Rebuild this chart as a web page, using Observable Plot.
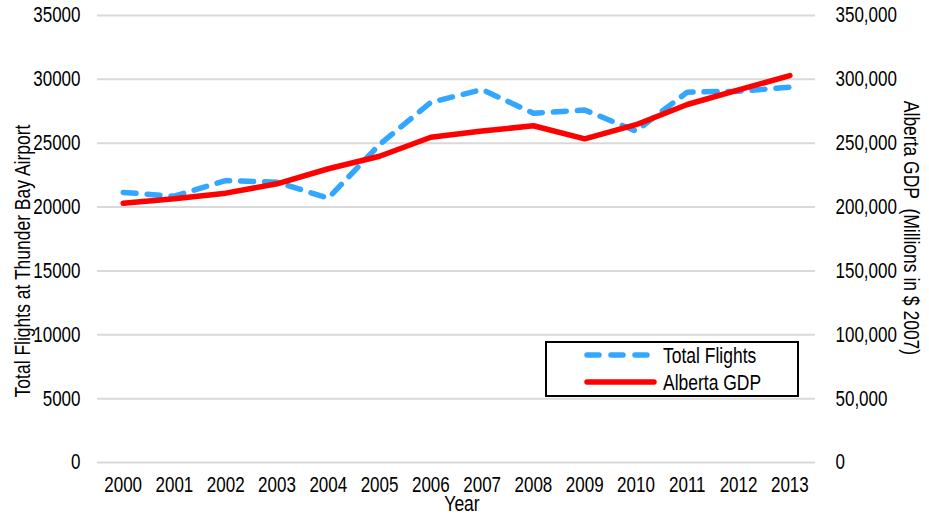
<!DOCTYPE html>
<html>
<head>
<meta charset="utf-8">
<script src="https://cdn.jsdelivr.net/npm/d3@7"></script>
<script src="https://cdn.jsdelivr.net/npm/@observablehq/plot@0.6"></script>
<style>
  html, body { margin: 0; padding: 0; background: #fff; }
  #chart { width: 929px; height: 515px; overflow: hidden; }
</style>
</head>
<body>
<div id="chart"></div>
<script>
const years = [2000, 2001, 2002, 2003, 2004, 2005, 2006, 2007, 2008, 2009, 2010, 2011, 2012, 2013];
const flights = [21150, 20850, 22080, 21950, 20700, 24900, 28200, 29200, 27350, 27600, 25950, 29000, 29070, 29380];
const gdp = [203000, 206500, 210900, 218200, 230000, 239800, 254700, 259500, 263700, 253400, 264500, 280300, 291800, 303000];
const leftTicks = [0, 5000, 10000, 15000, 20000, 25000, 30000, 35000];
const seriesNames = ["Total Flights", "Alberta GDP"];
const xTitle = "Year";
const yLeftTitle = "Total Flights at Thunder Bay Airport";
const yRightTitle = "Alberta GDP  (Millions in $ 2007)";

const FONT = "'Liberation Sans', Arial, sans-serif";
const BLUE = "#33a6ff";
const RED = "#ff0000";
const STRETCH = 1.3;

const data = years.map((y, i) => ({year: y, flights: flights[i], gdp: gdp[i]}));

const W = 929, H = 515, mL = 97, mR = 114, mT = 15, mB = 53;

const chart = Plot.plot({
  width: W, height: H,
  marginLeft: mL, marginRight: mR, marginTop: mT, marginBottom: mB,
  style: {fontFamily: FONT, fontSize: "17px", color: "#000", background: "#fff", overflow: "visible"},
  x: {type: "linear", domain: [years[0] - 0.5, years[years.length - 1] + 0.5]},
  y: {domain: [0, 35000]},
  marks: [
    Plot.gridY({ticks: leftTicks, stroke: "#d9d9d9", strokeOpacity: 1, strokeWidth: 2}),
    Plot.axisY({ticks: leftTicks, tickSize: 0, tickPadding: 17, tickFormat: d => String(d), label: null}),
    Plot.axisY({anchor: "right", ticks: leftTicks, tickSize: 0, tickPadding: 20, textAnchor: "start",
      tickFormat: d => d3.format(",")(d * 10), label: null}),
    Plot.axisX({ticks: years, tickSize: 0, tickPadding: 23, tickFormat: d => String(d), label: null}),
    Plot.line(data, {x: "year", y: "flights", stroke: BLUE, strokeWidth: 5.5,
      strokeDasharray: "13,11", strokeLinecap: "round", strokeLinejoin: "round"}),
    Plot.line(data, {x: "year", y: d => d.gdp / 10, stroke: RED, strokeWidth: 5.5,
      strokeLinecap: "round", strokeLinejoin: "round"})
  ]
});

document.getElementById("chart").appendChild(chart);

const svg = d3.select(chart);
const g = svg.append("g").attr("font-family", FONT).attr("fill", "#000").attr("font-size", 17.5);

function label(x, y, rot, anchor, txt) {
  return g.append("text")
    .attr("transform", `translate(${x},${y})` + (rot ? ` rotate(${rot})` : ""))
    .attr("dy", "0.35em").attr("text-anchor", anchor).attr("data-rot", rot ? 1 : 0).text(txt);
}

// axis titles
label(462, 503, 0, "middle", xTitle);
label(22, 261, -90, "middle", yLeftTitle);
label(912, 228, 90, "middle", yRightTitle);

// legend
const lg = g.append("g");
lg.append("rect").attr("x", 546).attr("y", 342).attr("width", 252).attr("height", 54)
  .attr("fill", "#fff").attr("stroke", "#000").attr("stroke-width", 2);
lg.append("line").attr("x1", 587).attr("x2", 648).attr("y1", 355).attr("y2", 355)
  .attr("stroke", BLUE).attr("stroke-width", 5.5).attr("stroke-dasharray", "12,12").attr("stroke-linecap", "round");
lg.append("line").attr("x1", 587).attr("x2", 654).attr("y1", 382).attr("y2", 382)
  .attr("stroke", RED).attr("stroke-width", 5.5).attr("stroke-linecap", "round");
label(663, 355, 0, "start", seriesNames[0]);
label(663, 382, 0, "start", seriesNames[1]);

// stretch glyphs along their height (the reference uses a tall, narrow face):
// wrap every text in a group that scales about the text's own centre
const sr = chart.getBoundingClientRect();
Array.from(chart.querySelectorAll("text")).forEach(el => {
  const r = el.getBoundingClientRect();
  const cx = r.left - sr.left + r.width / 2, cy = r.top - sr.top + r.height / 2;
  const rotated = el.getAttribute("data-rot") === "1";
  const wrap = document.createElementNS("http://www.w3.org/2000/svg", "g");
  wrap.setAttribute("transform", rotated
    ? `translate(${cx},0) scale(${STRETCH},1) translate(${-cx},0)`
    : `translate(0,${cy}) scale(1,${STRETCH}) translate(0,${-cy})`);
  el.parentNode.insertBefore(wrap, el);
  wrap.appendChild(el);
});
</script>
</body>
</html>
